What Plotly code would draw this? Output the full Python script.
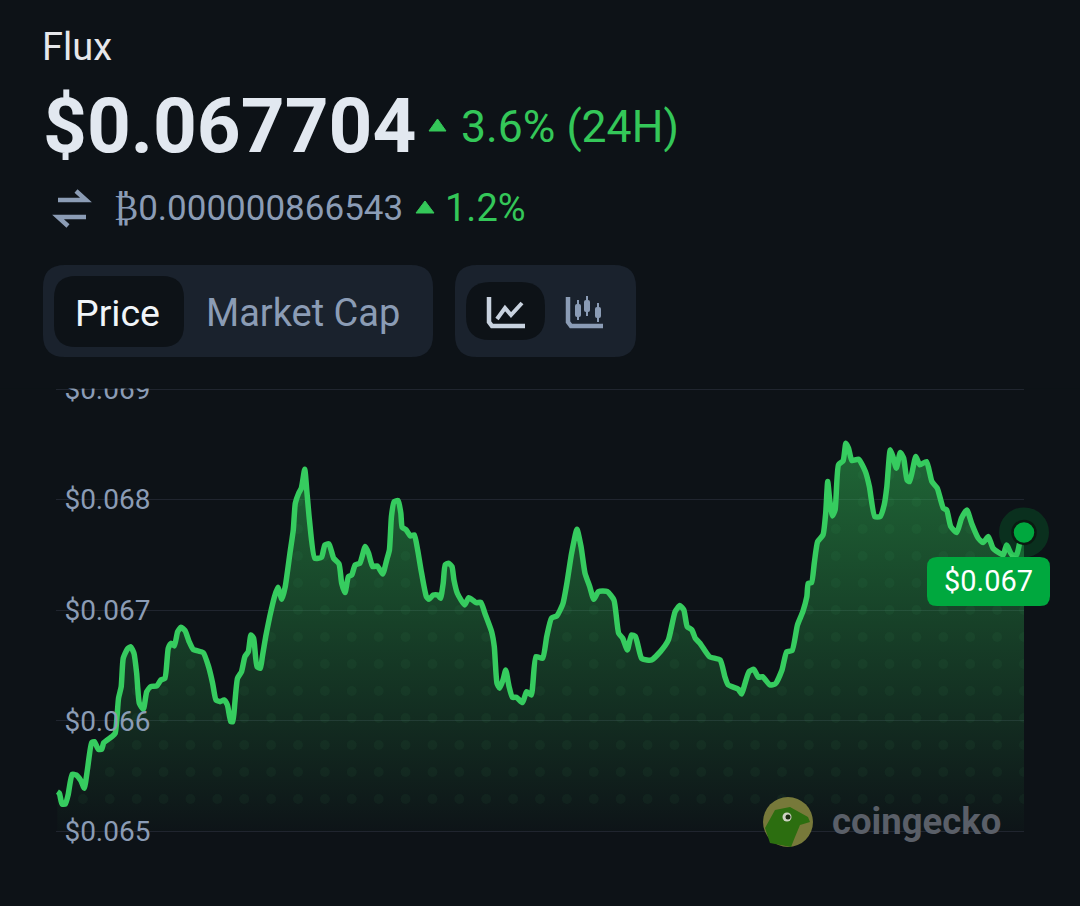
import numpy as np
import plotly.graph_objects as go

# Price history (minutes into the 24h window, USD)
minutes = [2, 5, 9, 14, 18, 24, 30, 37, 42, 47, 53, 57, 63, 68, 71, 83, 88, 93, 97, 100,
           106, 111, 116, 120, 124, 130, 135, 141, 150, 156, 162, 167, 171, 176, 181, 186, 192, 198, 204, 219,
           227, 233, 238, 244, 250, 255, 260, 263, 266, 270, 276, 281, 286, 290, 294, 299, 304, 307, 312, 318,
           325, 330, 336, 341, 348, 353, 356, 361, 365, 370, 373, 377, 385, 395, 400, 406, 413, 421, 425, 430,
           435, 440, 445, 452, 460, 465, 471, 478, 486, 492, 496, 499, 503, 509, 513, 515, 521, 527, 533, 538,
           543, 551, 555, 561, 568, 572, 576, 579, 584, 589, 592, 597, 608, 614, 625, 632, 638, 648, 652, 656,
           660, 665, 669, 674, 679, 685, 694, 700, 707, 714, 724, 730, 737, 745, 754, 760, 767, 775, 781, 787,
           794, 800, 807, 820, 830, 837, 843, 850, 856, 862, 871, 879, 886, 899, 911, 921, 928, 934, 939, 946,
           951, 958, 972, 988, 995, 1000, 1015, 1020, 1025, 1031, 1038, 1045, 1051, 1062, 1070, 1080, 1087, 1095, 1103, 1111,
           1117, 1119, 1124, 1128, 1133, 1141, 1145, 1148, 1151, 1155, 1159, 1164, 1171, 1175, 1179, 1184, 1194, 1204, 1210, 1218,
           1226, 1232, 1236, 1241, 1245, 1250, 1256, 1261, 1266, 1270, 1279, 1285, 1295, 1303, 1311, 1320, 1325, 1331, 1340, 1347,
           1355, 1362, 1372, 1379, 1387, 1394, 1409, 1414, 1422, 1429, 1434, 1440]
prices = [0.06536, 0.065345, 0.065249, 0.065249, 0.06533, 0.065517, 0.065511, 0.06546, 0.06539, 0.065571,
          0.065803, 0.065812, 0.065743, 0.065743, 0.065803, 0.065858, 0.065888, 0.066204, 0.06631, 0.066566,
          0.066647, 0.066671, 0.066611, 0.06643, 0.066159, 0.066105, 0.066264, 0.06631, 0.066316, 0.06637,
          0.066385, 0.066656, 0.066701, 0.066677, 0.066807, 0.066846, 0.066816, 0.066717, 0.066647, 0.066617,
          0.06649, 0.06634, 0.066189, 0.066174, 0.066189, 0.066144, 0.065993, 0.065993, 0.066159, 0.066385,
          0.066445, 0.066581, 0.066626, 0.066777, 0.066747, 0.06649, 0.066475, 0.066581, 0.066762, 0.066943,
          0.067123, 0.067208, 0.067099, 0.067214, 0.067515, 0.067726, 0.067967, 0.068058, 0.068103, 0.068275,
          0.068088, 0.067817, 0.06747, 0.067479, 0.067591, 0.0676, 0.06747, 0.067419, 0.067244, 0.06716,
          0.067304, 0.067319, 0.06741, 0.067425, 0.067576, 0.067515, 0.067395, 0.067401, 0.067328, 0.067455,
          0.067545, 0.067847, 0.067982, 0.067991, 0.067877, 0.06775, 0.067726, 0.067672, 0.067681, 0.067545,
          0.067365, 0.067123, 0.067099, 0.067138, 0.067138, 0.067108, 0.067244, 0.06741, 0.067425, 0.067395,
          0.067274, 0.067154, 0.067048, 0.067114, 0.067069, 0.067072, 0.066973, 0.066807, 0.066671, 0.06634,
          0.066295, 0.06637, 0.06646, 0.06631, 0.066213, 0.066213, 0.066165, 0.066264, 0.066234, 0.066581,
          0.066566, 0.066762, 0.066928, 0.066949, 0.067057, 0.067244, 0.067515, 0.067732, 0.067576, 0.067334,
          0.067214, 0.067099, 0.067169, 0.067169, 0.067093, 0.066792, 0.066747, 0.066641, 0.066777, 0.066762,
          0.066566, 0.066551, 0.066551, 0.066626, 0.066732, 0.066988, 0.067042, 0.067003, 0.066852, 0.066822,
          0.066747, 0.066701, 0.066581, 0.066551, 0.0664, 0.066325, 0.066286, 0.066243, 0.06634, 0.066445,
          0.066466, 0.066394, 0.0664, 0.066325, 0.066334, 0.06646, 0.066626, 0.066635, 0.066867, 0.066988,
          0.067124, 0.067244, 0.06725, 0.067425, 0.067621, 0.067681, 0.067877, 0.068163, 0.067998, 0.067853,
          0.067907, 0.068314, 0.068353, 0.06851, 0.068465, 0.068353, 0.068365, 0.068254, 0.068118, 0.067847,
          0.067847, 0.067952, 0.068118, 0.06845, 0.068389, 0.068284, 0.068426, 0.068374, 0.068178, 0.068163,
          0.068389, 0.068314, 0.068344, 0.068163, 0.068103, 0.067922, 0.067907, 0.067757, 0.067702, 0.067832,
          0.067907, 0.067787, 0.067651, 0.067612, 0.067666, 0.067561, 0.0675, 0.067591, 0.0675, 0.0675,
          0.067621, 0.067704]
tick_vals = [0.065, 0.066, 0.067, 0.068, 0.069]
tick_text = ["$0.065", "$0.066", "$0.067", "$0.068", "$0.069"]

BG = "#0d1217"
GREEN = "#34c759"
SLATE = "#8b9cb5"
PANEL = "#1a222d"
FONT = "Roboto"
W, H = 1080, 906


# page pixels -> paper coords
def X(p):
    return p / W


def Y(p):
    return 1 - p / H


def round_rect(x0, y0, x1, y1, r, color):
    rx, ry = r / W, r / H
    a, b, c, d = X(x0), Y(y0), X(x1), Y(y1)
    path = (f"M{a + rx},{b} L{c - rx},{b} Q{c},{b} {c},{b - ry} L{c},{d + ry} Q{c},{d} {c - rx},{d} "
            f"L{a + rx},{d} Q{a},{d} {a},{d + ry} L{a},{b - ry} Q{a},{b} {a + rx},{b} Z")
    return dict(type="path", xref="paper", yref="paper", path=path, fillcolor=color,
                line=dict(width=0), layer="above")


def poly(points, color, width=3.5, fill=None):
    path = "M" + " L".join(f"{X(a)},{Y(b)}" for a, b in points)
    if fill:
        path += " Z"
    return dict(type="path", xref="paper", yref="paper", path=path, fillcolor=fill,
                line=dict(color=color, width=width), layer="above")


def circle(cx, cy, r, color):
    return dict(type="circle", xref="paper", yref="paper", x0=X(cx - r), x1=X(cx + r),
                y0=Y(cy + r), y1=Y(cy - r), fillcolor=color, line=dict(width=0), layer="above")


def label(px, py, text, size, color, anchor="left", family=FONT):
    return dict(xref="paper", yref="paper", x=X(px), y=Y(py), text=text, showarrow=False,
                xanchor=anchor, yanchor="middle", font=dict(family=family, size=size, color=color))


# dot texture sits only under the line
dot_cols = np.arange(1440, 0, -40)
dot_rows = 0.065294 + 0.000244 * np.arange(0, 13)
dx, dy = np.meshgrid(dot_cols, dot_rows)
dx, dy = dx.ravel(), dy.ravel()
keep = dy < np.interp(dx, minutes, prices) - 0.00006
dx, dy = dx[keep], dy[keep]

fig = go.Figure()
fig.add_trace(go.Scatter(
    x=minutes, y=prices, mode="none", fill="tozeroy",
    fillgradient=dict(type="vertical", start=0.0647, stop=0.0685,
                      colorscale=[[0, "rgba(52,199,89,0)"], [0.079, "rgba(52,199,89,0)"],
                                  [0.08, "rgba(52,199,89,0.012)"], [1, "rgba(52,199,89,0.47)"]]),
    hoverinfo="skip", showlegend=False))
fig.add_trace(go.Scatter(
    x=dx, y=dy, mode="markers",
    marker=dict(size=10, color="rgba(90,230,130,0.045)", line=dict(width=0)),
    hoverinfo="skip", showlegend=False))
fig.add_trace(go.Scatter(
    x=minutes, y=prices, mode="lines",
    line=dict(color="#36cc5f", width=5.5, shape="spline", smoothing=0.5),
    showlegend=False))
fig.add_trace(go.Scatter(
    x=[minutes[-1]], y=[prices[-1]], mode="markers", cliponaxis=False,
    marker=dict(size=50, color="rgba(0,168,62,0.2)", line=dict(width=0)),
    hoverinfo="skip", showlegend=False))
fig.add_trace(go.Scatter(
    x=[minutes[-1]], y=[prices[-1]], mode="markers", cliponaxis=False,
    marker=dict(size=23, color="#00a83e", line=dict(width=2.5, color="#0b1a12")),
    hoverinfo="skip", showlegend=False))

shapes = [
    # hides the top half of the $0.069 label
    dict(type="rect", xref="paper", yref="paper", x0=0, x1=1, y0=Y(388.6), y1=1,
         fillcolor=BG, line=dict(width=0), layer="above"),
    round_rect(43, 265, 433, 357, 22, PANEL),
    round_rect(54, 276, 184, 347, 22, BG),
    round_rect(455, 265, 636, 357, 22, PANEL),
    round_rect(466, 282, 545, 340, 24, BG),
    # line icon
    poly([(489, 297), (489, 322), (492, 326), (525, 326)], "#c8d2df", 4.5),
    poly([(497, 319), (505, 308), (511, 315), (522, 303)], "#c8d2df", 4),
    # candle icon
    poly([(568, 297), (568, 322), (571, 326), (603, 326)], SLATE, 4.5),
    poly([(578, 300), (578, 320)], SLATE, 2),
    poly([(587, 296), (587, 316)], SLATE, 2),
    poly([(598, 303), (598, 322)], SLATE, 2),
    round_rect(575, 304, 581, 317, 2, SLATE),
    round_rect(584, 300, 590, 312, 2, SLATE),
    round_rect(595, 307, 601, 318, 2, SLATE),
    # swap icon
    poly([(58, 200), (86, 200), (76, 191)], SLATE, 4.5),
    poly([(86, 217), (58, 217), (68, 226)], SLATE, 4.5),
    # up triangles
    poly([(429, 131), (437.5, 119), (446, 131)], GREEN, 1, fill=GREEN),
    poly([(416, 213), (425, 201), (434, 213)], GREEN, 1, fill=GREEN),
    # last price tag
    round_rect(927, 557, 1050, 606, 10, "#00a83e"),
    # watermark logo
    circle(788, 822, 25, "#77793a"),
    poly([(765, 828), (775, 810), (790, 807), (808, 817), (810, 822), (800, 825), (795, 837), (791, 847), (770, 843)],
         "#2c6e10", 0, fill="#2c6e10"),
    circle(787, 817, 4.5, "#cfd3c4"),
    circle(788, 817, 2.5, "#1b2a10"),
]

annotations = [
    label(40, 47, "Flux", 38, "#e5e7eb"),
    label(41, 126, "<b>$0.067704</b>", 76.5, "#e2e8f0"),
    label(459, 127, "3.6% (24H)", 44.5, GREEN),
    label(112, 208, "₿0.000000866543", 35, SLATE),
    label(443, 208, "1.2%", 38, GREEN),
    label(73, 313, "Price", 37.5, "#f1f5f9"),
    label(204, 313, "Market Cap", 38, SLATE),
    label(988.5, 581, "$0.067", 29, "#ffffff", anchor="center"),
    label(830, 821, "<b>coingecko</b>", 36.5, "#5a5f68"),
]

fig.update_layout(
    width=W, height=H, margin=dict(l=0, r=0, t=0, b=0),
    paper_bgcolor=BG, plot_bgcolor=BG, showlegend=False,
    shapes=shapes, annotations=annotations,
    font=dict(family=FONT),
    xaxis=dict(visible=False, range=[0, 1440], domain=[56 / W, 1024 / W]),
    yaxis=dict(range=[0.0647, 0.0695], domain=[1 - 864.7 / H, 1 - 333.7 / H],
               tickmode="array", tickvals=tick_vals, ticktext=tick_text,
               ticklabelposition="inside", ticks="inside", ticklen=11, tickcolor="rgba(0,0,0,0)",
               tickfont=dict(family=FONT, size=28, color=SLATE),
               showgrid=True, gridcolor="#20252f", gridwidth=1,
               zeroline=False, showline=False),
)

fig.write_html("out.html", config=dict(displayModeBar=False),
               post_script="document.body.style.margin='0';")
